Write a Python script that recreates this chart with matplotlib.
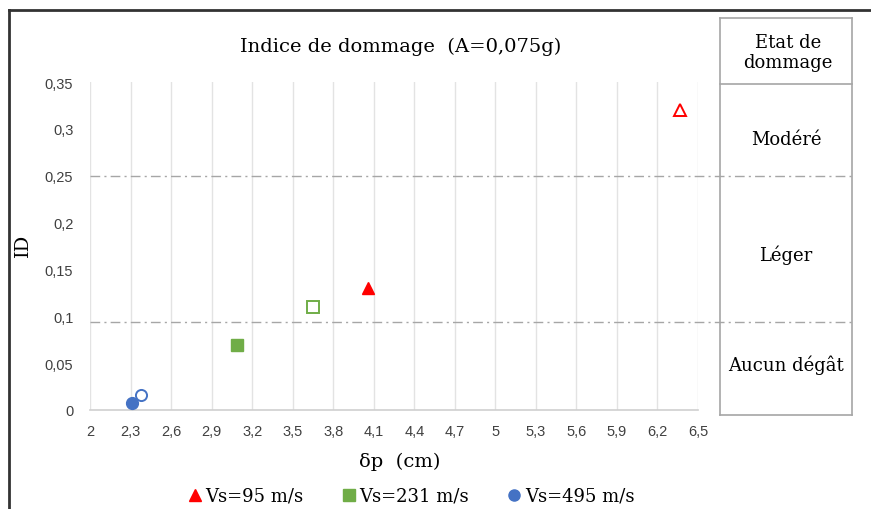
import matplotlib.pyplot as plt
from matplotlib.lines import Line2D

# data
series_labels = ['Vs=95 m/s', 'Vs=231 m/s', 'Vs=495 m/s']
series_colors = ['#ff0000', '#70ad47', '#4472c4']
series_markers = ['^', 's', 'o']
dp_filled = [4.06, 3.09, 2.31]
id_filled = [0.130, 0.069, 0.008]
dp_open = [6.37, 3.65, 2.38]
id_open = [0.320, 0.110, 0.016]

x_ticks = [2, 2.3, 2.6, 2.9, 3.2, 3.5, 3.8, 4.1, 4.4, 4.7, 5, 5.3, 5.6, 5.9, 6.2, 6.5]
y_ticks = [0, 0.05, 0.1, 0.15, 0.2, 0.25, 0.3, 0.35]
limits = [0.094, 0.25]
states = ['Aucun dégât', 'Léger', 'Modéré']

serif = 'DejaVu Serif'
sans = 'Liberation Sans'

W, H = 871, 510
fig = plt.figure(figsize=(W / 100, H / 100), dpi=100)

def fx(px):
    return px / W

def fy(py):
    return 1 - py / H

ax = fig.add_axes([fx(90), fy(411), fx(698) - fx(90), fy(83) - fy(411)])

for i in range(3):
    ax.plot(dp_filled[i], id_filled[i], series_markers[i], color=series_colors[i],
            markersize=8.5, zorder=3)
    ax.plot(dp_open[i], id_open[i], series_markers[i], markerfacecolor='white',
            markeredgecolor=series_colors[i], markeredgewidth=1.4, markersize=8, zorder=3)

ax.set_xlim(2, 6.5)
ax.set_ylim(0, 0.35)
ax.set_xticks(x_ticks)
ax.set_xticklabels([str(v).replace('.', ',') for v in x_ticks])
ax.set_yticks(y_ticks)
ax.set_yticklabels(['0' if v == 0 else f'{v:g}'.replace('.', ',') for v in y_ticks])
ax.tick_params(length=0, labelsize=10.5, colors='#404040', pad=10)
for lab in ax.get_xticklabels() + ax.get_yticklabels():
    lab.set_fontfamily(sans)
ax.tick_params(axis='y', pad=12)
ax.grid(axis='x', color='#e3e3e3', lw=1)
ax.set_axisbelow(True)
for s in ['top', 'right', 'left']:
    ax.spines[s].set_visible(False)
ax.spines['bottom'].set_color('#cfcfcf')
ax.spines['bottom'].set_linewidth(1.2)

fig.text(fx(401), fy(47), 'Indice de dommage  (A=0,075g)', ha='center', va='center',
         family=serif, fontsize=14)
fig.text(fx(400), fy(462), 'δp  (cm)', ha='center', va='center', family=serif, fontsize=14)
fig.text(fx(23), fy(245), 'ID', ha='center', va='center', rotation=90, family=serif, fontsize=14)

# outer frame
fig.add_artist(Line2D([fx(9), fx(9)], [0, fy(10.5)], color='#333333', lw=2))
fig.add_artist(Line2D([fx(9), 1], [fy(10.5), fy(10.5)], color='#333333', lw=2))

# damage state table
tl, tr, tt, th, tb = 720, 852, 19, 85, 416
for xs, ys in [([tl, tr], [tt, tt]), ([tl, tr], [th, th]), ([tl, tr], [tb, tb]),
               ([tl, tl], [tt, tb]), ([tr, tr], [tt, tb])]:
    fig.add_artist(Line2D([fx(v) for v in xs], [fy(v) for v in ys], color='#a6a6a6', lw=1.2))
fig.text(fx(788), fy(53), 'Etat de\ndommage', ha='center', va='center', family=serif,
         fontsize=13, linespacing=1.1)

# limit lines across plot and table
for lim in limits:
    py = 411 - lim / 0.35 * 328
    fig.add_artist(Line2D([fx(90), fx(tr)], [fy(py), fy(py)], color='#a6a6a6', lw=1,
                          linestyle=(0, (7, 3, 1.5, 3))))

state_y = [365, 255, 140]
for st, py in zip(states, state_y):
    fig.text(fx(786), fy(py), st, ha='center', va='center', family=serif, fontsize=13)

handles = [Line2D([], [], linestyle='none', marker=m, color=c, markersize=8)
           for m, c in zip(series_markers, series_colors)]
fig.legend(handles, series_labels, loc='center', bbox_to_anchor=(fx(410), fy(497)),
           ncol=3, frameon=False, prop={'family': serif, 'size': 13},
           handletextpad=0.1, columnspacing=2.0, handlelength=1.0)

fig.savefig('out.png', dpi=100)
